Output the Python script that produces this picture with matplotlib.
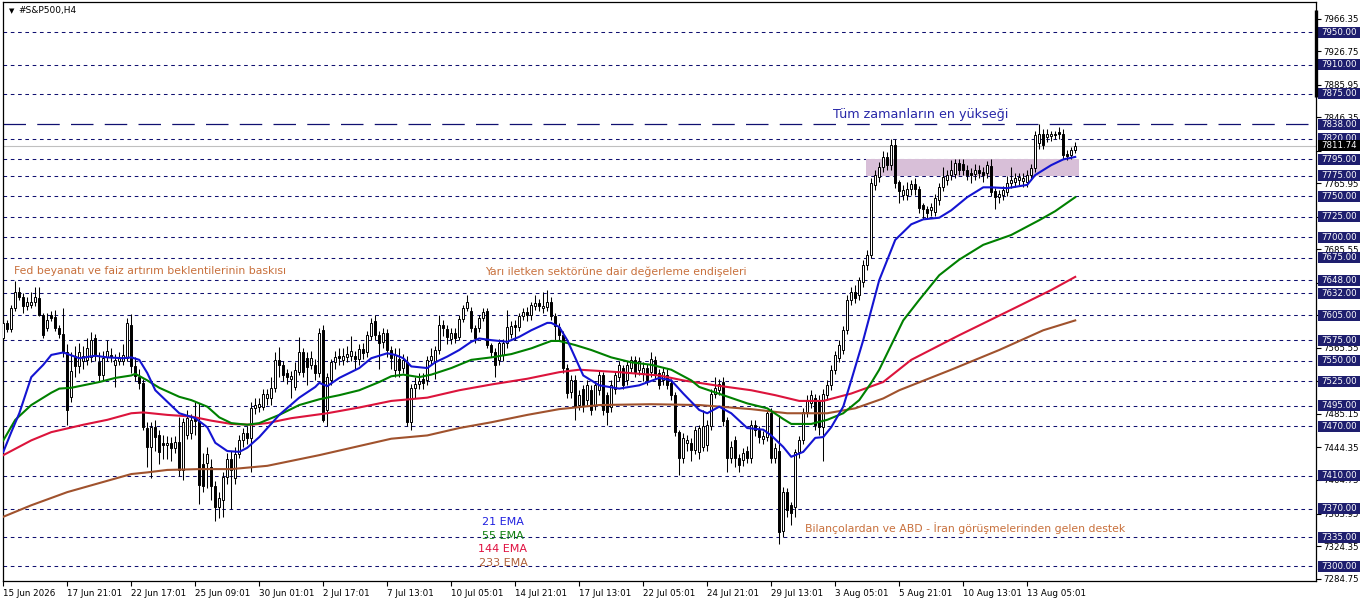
import matplotlib
matplotlib.use("Agg")
import matplotlib.pyplot as plt
import matplotlib.transforms as mtransforms
from matplotlib.patches import Rectangle
import numpy as np

# H4 candles
opens = [
    7578, 7596, 7588, 7614, 7633, 7628, 7617, 7618, 7621, 7626,
    7606, 7590, 7605, 7603, 7590, 7583, 7560, 7506, 7556, 7543,
    7550, 7551, 7554, 7578, 7548, 7533, 7555, 7557, 7545, 7550,
    7549, 7553, 7594, 7543, 7530, 7523, 7468, 7445, 7469, 7459,
    7450, 7447, 7450, 7444, 7451, 7417, 7460, 7462, 7480, 7476,
    7424, 7425, 7420, 7398, 7372, 7380, 7408, 7430, 7407, 7437,
    7453, 7462, 7456, 7492, 7494, 7494, 7504, 7505, 7517, 7551,
    7545, 7535, 7528, 7518, 7536, 7560, 7553, 7545, 7545, 7535,
    7587, 7490, 7526, 7548, 7556, 7551, 7554, 7556, 7556, 7552,
    7564, 7560, 7580, 7598, 7581, 7573, 7584, 7563, 7539, 7552,
    7541, 7548, 7475, 7517, 7521, 7528, 7526, 7551, 7550, 7563,
    7594, 7589, 7576, 7584, 7579, 7601, 7614, 7610, 7590, 7590,
    7602, 7610, 7569, 7561, 7551, 7557, 7571, 7582, 7593, 7591,
    7604, 7609, 7606, 7617, 7620, 7614, 7615, 7622, 7604, 7591,
    7581, 7541, 7512, 7526, 7496, 7515, 7502, 7514, 7496, 7514,
    7532, 7508, 7493, 7516, 7530, 7541, 7526, 7541, 7551, 7539,
    7535, 7541, 7536, 7551, 7535, 7526, 7532, 7523, 7508, 7463,
    7431, 7450, 7450, 7441, 7439, 7445, 7447, 7470, 7510, 7514,
    7524, 7478, 7432, 7453, 7431, 7429, 7440, 7431, 7472, 7466,
    7455, 7457, 7486, 7431, 7440, 7343, 7390, 7374, 7372, 7439,
    7453, 7487, 7498, 7504, 7502, 7469, 7508, 7520, 7539, 7553,
    7563, 7587, 7624, 7634, 7630, 7646, 7666, 7679, 7764, 7774,
    7786, 7798, 7788, 7812, 7767, 7752, 7752, 7759, 7765, 7759,
    7739, 7735, 7733, 7731, 7746, 7761, 7770, 7776, 7777, 7791,
    7790, 7782, 7778, 7777, 7782, 7780, 7779, 7787, 7757, 7749,
    7752, 7755, 7766, 7768, 7770, 7769, 7768, 7776, 7785, 7815,
    7826, 7822, 7824, 7826, 7828, 7826, 7802, 7800, 7806,
]
highs = [
    7600, 7600, 7618, 7647, 7640, 7632, 7628, 7634, 7640, 7640,
    7608, 7608, 7610, 7612, 7594, 7614, 7570, 7560, 7568, 7572,
    7568, 7578, 7585, 7582, 7560, 7562, 7575, 7566, 7558, 7560,
    7570, 7602, 7607, 7555, 7540, 7528, 7475, 7475, 7478, 7465,
    7460, 7458, 7457, 7458, 7482, 7480, 7490, 7485, 7500, 7498,
    7438, 7445, 7430, 7403, 7390, 7415, 7438, 7440, 7445, 7460,
    7468, 7470, 7500, 7505, 7505, 7515, 7515, 7530, 7560, 7567,
    7550, 7540, 7538, 7548, 7579, 7565, 7560, 7562, 7552, 7590,
    7593, 7535, 7552, 7562, 7565, 7565, 7568, 7580, 7562, 7570,
    7572, 7586, 7602, 7605, 7586, 7590, 7588, 7568, 7565, 7566,
    7558, 7556, 7522, 7530, 7535, 7535, 7556, 7565, 7568, 7605,
    7600, 7594, 7590, 7590, 7605, 7618, 7630, 7615, 7594, 7606,
    7614, 7614, 7572, 7565, 7576, 7576, 7612, 7598, 7600, 7608,
    7614, 7615, 7622, 7630, 7625, 7633, 7636, 7628, 7608, 7596,
    7586, 7546, 7532, 7532, 7514, 7520, 7526, 7520, 7525, 7538,
    7536, 7512, 7526, 7538, 7550, 7545, 7550, 7556, 7556, 7555,
    7548, 7546, 7560, 7556, 7540, 7542, 7540, 7528, 7512, 7466,
    7462, 7460, 7456, 7470, 7472, 7490, 7478, 7515, 7530, 7528,
    7530, 7482, 7452, 7458, 7436, 7444, 7446, 7478, 7478, 7470,
    7464, 7490, 7492, 7450, 7484, 7396, 7395, 7378, 7443, 7458,
    7492, 7508, 7514, 7510, 7508, 7516, 7526, 7545, 7562, 7575,
    7592, 7630, 7640, 7642, 7652, 7672, 7685, 7772, 7782, 7792,
    7805, 7804, 7820, 7820, 7770, 7764, 7768, 7770, 7772, 7763,
    7742, 7738, 7742, 7753, 7766, 7786, 7782, 7794, 7796, 7795,
    7796, 7788, 7784, 7790, 7788, 7786, 7793, 7795, 7760, 7758,
    7763, 7775, 7786, 7778, 7779, 7778, 7782, 7790, 7830, 7838,
    7832, 7832, 7830, 7830, 7834, 7832, 7806, 7810, 7816,
]
lows = [
    7572, 7585, 7585, 7610, 7624, 7608, 7612, 7614, 7617, 7604,
    7578, 7586, 7598, 7586, 7578, 7555, 7472, 7500, 7530, 7535,
    7540, 7545, 7548, 7550, 7525, 7526, 7550, 7548, 7518, 7545,
    7545, 7550, 7535, 7525, 7515, 7465, 7420, 7407, 7440, 7424,
    7430, 7430, 7428, 7438, 7410, 7405, 7455, 7455, 7460, 7375,
    7390, 7395, 7380, 7355, 7358, 7360, 7400, 7370, 7400, 7432,
    7445, 7448, 7415, 7485, 7488, 7490, 7496, 7496, 7512, 7530,
    7525, 7522, 7505, 7514, 7532, 7530, 7520, 7540, 7527, 7530,
    7475, 7470, 7520, 7540, 7545, 7545, 7548, 7550, 7540, 7545,
    7552, 7555, 7575, 7575, 7540, 7565, 7555, 7540, 7530, 7530,
    7535, 7470, 7466, 7505, 7515, 7515, 7520, 7545, 7528, 7558,
    7580, 7570, 7570, 7572, 7575, 7597, 7610, 7585, 7572, 7585,
    7598, 7565, 7555, 7530, 7545, 7550, 7566, 7578, 7575, 7586,
    7600, 7598, 7600, 7612, 7610, 7608, 7610, 7600, 7575, 7575,
    7535, 7505, 7505, 7478, 7490, 7488, 7496, 7484, 7490, 7508,
    7484, 7472, 7488, 7510, 7525, 7515, 7520, 7536, 7530, 7532,
    7525, 7520, 7530, 7528, 7515, 7520, 7515, 7502, 7458, 7411,
    7425, 7440, 7428, 7436, 7430, 7440, 7440, 7465, 7505, 7508,
    7470, 7415, 7425, 7420, 7415, 7422, 7425, 7425, 7458, 7450,
    7448, 7452, 7425, 7425, 7327, 7335, 7360, 7350, 7360, 7432,
    7448, 7482, 7492, 7466, 7460, 7428, 7502, 7514, 7534, 7548,
    7558, 7582, 7618, 7620, 7624, 7640, 7660, 7675, 7758, 7768,
    7780, 7782, 7782, 7760, 7742, 7746, 7746, 7752, 7752, 7730,
    7722, 7724, 7726, 7726, 7740, 7756, 7764, 7770, 7772, 7776,
    7776, 7770, 7766, 7770, 7772, 7768, 7772, 7750, 7735, 7742,
    7746, 7750, 7760, 7762, 7764, 7762, 7762, 7770, 7780, 7808,
    7808, 7816, 7818, 7820, 7820, 7796, 7794, 7796, 7803,
]
closes = [
    7596, 7589, 7614, 7634, 7628, 7616, 7621, 7622, 7627, 7606,
    7581, 7600, 7602, 7590, 7583, 7560, 7490, 7538, 7543, 7561,
    7556, 7566, 7575, 7557, 7533, 7553, 7562, 7555, 7551, 7553,
    7557, 7596, 7543, 7531, 7523, 7469, 7445, 7469, 7457, 7439,
    7447, 7450, 7444, 7451, 7417, 7475, 7480, 7478, 7476, 7399,
    7398, 7437, 7397, 7372, 7383, 7408, 7430, 7417, 7437, 7453,
    7462, 7456, 7492, 7496, 7497, 7509, 7510, 7517, 7551, 7545,
    7532, 7530, 7531, 7539, 7560, 7536, 7542, 7553, 7535, 7584,
    7478, 7530, 7548, 7555, 7553, 7556, 7558, 7562, 7552, 7564,
    7559, 7581, 7596, 7581, 7572, 7584, 7563, 7553, 7557, 7539,
    7551, 7475, 7517, 7522, 7525, 7523, 7551, 7556, 7563, 7594,
    7590, 7579, 7584, 7578, 7601, 7614, 7621, 7590, 7578, 7602,
    7609, 7569, 7560, 7545, 7572, 7572, 7591, 7592, 7591, 7604,
    7609, 7606, 7618, 7620, 7617, 7617, 7622, 7604, 7592, 7581,
    7541, 7511, 7526, 7493, 7508, 7496, 7520, 7490, 7520, 7532,
    7490, 7487, 7520, 7532, 7545, 7520, 7545, 7551, 7536, 7549,
    7541, 7526, 7552, 7532, 7520, 7536, 7520, 7508, 7463, 7431,
    7456, 7453, 7441, 7466, 7468, 7470, 7472, 7510, 7517, 7522,
    7476, 7432, 7445, 7431, 7423, 7438, 7431, 7472, 7466, 7457,
    7458, 7486, 7431, 7444, 7342, 7390, 7368, 7365, 7439, 7453,
    7487, 7502, 7508, 7472, 7469, 7510, 7520, 7539, 7557, 7569,
    7587, 7624, 7634, 7626, 7648, 7666, 7679, 7766, 7776, 7786,
    7798, 7788, 7812, 7766, 7757, 7758, 7759, 7765, 7759, 7736,
    7735, 7730, 7737, 7748, 7762, 7773, 7776, 7782, 7791, 7782,
    7782, 7776, 7776, 7782, 7779, 7776, 7788, 7755, 7749, 7753,
    7758, 7766, 7770, 7772, 7773, 7772, 7776, 7785, 7825, 7826,
    7812, 7826, 7826, 7825, 7826, 7800, 7799, 7806, 7811.74,
]

# EMA lines, read at points along each curve (bar index, price)
ema21_bars = [0, 2, 4, 7, 10, 12, 15, 19, 23, 26, 30, 32, 34, 36, 38, 41, 44, 48, 51, 53, 56,
              59, 61, 64, 69, 74, 78, 79, 81, 84, 89, 92, 96, 98, 100, 102, 106, 108, 111,
              114, 117, 119, 122, 126, 129, 132, 136, 137, 139, 141, 145, 149, 154, 159,
              164, 167, 170, 174, 176, 179, 182, 186, 190, 192, 195, 197, 200, 203, 205,
              207, 210, 212, 215, 219, 223, 227, 230, 234, 237, 241, 245, 247, 251, 256,
              258, 262, 265, 268]
ema21_vals = [7439, 7463, 7486, 7530, 7545, 7557, 7560, 7553, 7556, 7554, 7553, 7554, 7551,
              7535, 7514, 7500, 7486, 7480, 7469, 7450, 7440, 7439, 7444, 7457, 7484, 7505,
              7518, 7523, 7519, 7529, 7541, 7553, 7559, 7557, 7553, 7543, 7541, 7548, 7555,
              7563, 7573, 7577, 7575, 7573, 7579, 7587, 7596, 7596, 7591, 7575, 7532, 7520,
              7516, 7520, 7529, 7526, 7510, 7490, 7486, 7494, 7486, 7468, 7466, 7459, 7445,
              7433, 7439, 7456, 7457, 7469, 7494, 7526, 7575, 7648, 7697, 7716, 7722, 7724,
              7733, 7749, 7761, 7761, 7760, 7764, 7776, 7788, 7795, 7798]

ema55_bars = [0, 3, 7, 12, 14, 17, 20, 24, 28, 32, 33, 36, 39, 44, 47, 51, 54, 57, 61, 64,
              69, 74, 79, 84, 89, 94, 97, 100, 104, 107, 112, 117, 122, 127, 132, 137, 139,
              143, 147, 152, 157, 162, 167, 172, 174, 180, 186, 191, 195, 197, 202, 206,
              210, 214, 217, 219, 222, 225, 229, 234, 239, 245, 252, 259, 263, 268]
ema55_vals = [7453, 7478, 7496, 7511, 7516, 7517, 7520, 7524, 7529, 7532, 7534, 7526, 7517,
              7506, 7502, 7494, 7481, 7474, 7472, 7474, 7484, 7496, 7503, 7508, 7514, 7524,
              7531, 7533, 7530, 7533, 7541, 7551, 7554, 7558, 7565, 7574, 7574, 7569, 7563,
              7554, 7548, 7545, 7539, 7526, 7518, 7508, 7498, 7492, 7479, 7473, 7473, 7478,
              7486, 7502, 7523, 7539, 7569, 7599, 7624, 7654, 7673, 7691, 7703, 7721, 7732,
              7749]

ema144_bars = [0, 7, 12, 20, 26, 32, 35, 41, 47, 52, 57, 62, 66, 72, 81, 89, 97, 106, 114,
               122, 131, 139, 144, 154, 164, 170, 178, 187, 193, 199, 205, 212, 220, 227,
               239, 252, 262, 268]
ema144_vals = [7435, 7453, 7463, 7472, 7478, 7486, 7487, 7484, 7482, 7477, 7473, 7472, 7474,
               7480, 7486, 7493, 7501, 7505, 7514, 7521, 7528, 7536, 7539, 7536, 7532, 7526,
               7520, 7514, 7508, 7501, 7501, 7510, 7524, 7551, 7581, 7612, 7636, 7652]

ema233_bars = [0, 7, 16, 24, 32, 36, 41, 49, 57, 66, 79, 97, 106, 114, 122, 131, 139, 149,
               162, 174, 187, 196, 206, 213, 220, 224, 237, 249, 260, 268]
ema233_vals = [7360, 7374, 7390, 7401, 7412, 7414, 7417, 7418, 7418, 7422, 7435, 7455, 7459,
               7468, 7475, 7484, 7491, 7496, 7497, 7496, 7491, 7486, 7486, 7492, 7504, 7514,
               7539, 7563, 7587, 7599]

# horizontal levels drawn on the chart
levels = [7950, 7910, 7875, 7820, 7795, 7775, 7750, 7725, 7700, 7675, 7648, 7632, 7605,
          7575, 7550, 7525, 7495, 7470, 7410, 7370, 7335, 7300]
ath_level = 7838
last_price = 7811.74
zone_low, zone_high = 7775, 7795

price_ticks = [7966.35, 7926.75, 7885.95, 7846.35, 7805.55, 7765.95, 7725.15, 7685.55,
               7644.75, 7605.15, 7565.55, 7524.75, 7485.15, 7444.35, 7404.75, 7363.95,
               7324.35, 7284.75]
# these scale labels sit completely under a level label in the reference
hidden_ticks = [7805.55, 7725.15, 7605.15, 7524.75]
time_labels = ["15 Jun 2026", "17 Jun 21:01", "22 Jun 17:01", "25 Jun 09:01", "30 Jun 01:01",
               "2 Jul 17:01", "7 Jul 13:01", "10 Jul 05:01", "14 Jul 21:01", "17 Jul 13:01",
               "22 Jul 05:01", "24 Jul 21:01", "29 Jul 13:01", "3 Aug 05:01", "5 Aug 21:01",
               "10 Aug 13:01", "13 Aug 05:01"]
label_every = 16

plt.rcParams['font.family'] = ['DejaVu Sans']

opens = np.array(opens, dtype=float)
highs = np.array(highs, dtype=float)
lows = np.array(lows, dtype=float)
closes = np.array(closes, dtype=float)
n = len(closes)
x = np.arange(n)

fig = plt.figure(figsize=(13.62, 6.03), dpi=100)
ax = fig.add_axes([3 / 1362, 22 / 603, 1313 / 1362, 579 / 603])
ax.set_xlim(-0.075, 328.2)
ax.set_ylim(7281.8, 7986.6)

for lv in levels:
    ax.axhline(lv, color='#101070', lw=0.75, ls=(0, (3.5, 3.5)), zorder=1)
ax.axhline(ath_level, color='#101070', lw=0.9, ls=(0, (18, 9)), zorder=1)
ax.axhline(last_price, color='#c0c0c0', lw=0.8, zorder=1)

ax.fill_between([215.8, 269.0], zone_low, zone_high, color='#d8bfd8', lw=0, zorder=1.5)

# candles
up = closes >= opens
ax.vlines(x, lows, highs, color='black', lw=0.75, zorder=2)
ax.bar(x, np.abs(closes - opens), bottom=np.minimum(opens, closes), width=0.6,
       color=np.where(up, 'white', 'black'), edgecolor='black', linewidth=0.7, zorder=3)

ax.plot(ema233_bars, ema233_vals, color='#a0522d', lw=1.5, zorder=4)
ax.plot(ema144_bars, ema144_vals, color='#dc143c', lw=1.5, zorder=4)
ax.plot(ema55_bars, ema55_vals, color='#008000', lw=1.5, zorder=4)
ax.plot(ema21_bars, ema21_vals, color='#1414d2', lw=1.5, zorder=4)

# axes look
for s in ax.spines.values():
    s.set_color('black')
    s.set_linewidth(0.9)
ax.yaxis.tick_right()
ax.set_yticks(price_ticks)
ax.set_yticklabels(["" if t in hidden_ticks else f"{t:.2f}" for t in price_ticks])
ax.tick_params(axis='y', direction='out', length=3.5, width=0.8, pad=1.5, labelsize=6.2,
               colors='black')
tick_pos = list(range(0, label_every * len(time_labels), label_every))
ax.set_xticks(tick_pos)
ax.set_xticklabels(time_labels)
ax.tick_params(axis='x', direction='out', length=3.5, width=0.8, pad=2, labelsize=6.3,
               colors='black')
for lbl in ax.get_xticklabels():
    lbl.set_horizontalalignment('left')

# price labels for the drawn levels
tr = mtransforms.blended_transform_factory(ax.transAxes, ax.transData)
box_x0, box_w, box_h = 1.0015, 0.032, 13.4


def price_box(value, face, z):
    ax.add_patch(Rectangle((box_x0, value - box_h / 2), box_w, box_h, transform=tr,
                           facecolor=face, edgecolor='none', clip_on=False, zorder=z))
    ax.text(box_x0 + box_w / 2, value, f"{value:.2f}", transform=tr, ha='center',
            va='center', fontsize=6.2, color='white', clip_on=False, zorder=z + 0.1)


for lv in levels + [ath_level]:
    price_box(lv, '#1e1e6e', 6)
price_box(last_price, 'black', 7)
ax.plot([1.0, 1.0], [7870.9, 7976.8], transform=tr, color='black', lw=2.4,
        clip_on=False, zorder=6, solid_capstyle='butt')

# texts
ax.text(0.0045, 0.985, "\u25bc", transform=ax.transAxes, fontsize=5, va='center',
        ha='left', color='black')
ax.text(0.0115, 0.985, "#S&P500,H4", transform=ax.transAxes, fontsize=6.5, va='center',
        ha='left', color='black')

note_color = '#c8703c'
ax.text(0.632, 0.805, "Tüm zamanların en yükseği", transform=ax.transAxes, fontsize=9.2,
        va='center', ha='left', color='#2828a8', zorder=5)
ax.text(0.0084, 0.5354, "Fed beyanatı ve faiz artırım beklentilerinin baskısı",
        transform=ax.transAxes, fontsize=7.8, va='center', ha='left', color=note_color, zorder=5)
ax.text(0.367, 0.5337, "Yarı iletken sektörüne dair değerleme endişeleri",
        transform=ax.transAxes, fontsize=7.8, va='center', ha='left', color=note_color, zorder=5)
ax.text(0.6108, 0.0915, "Bilançolardan ve ABD - İran görüşmelerinden gelen destek",
        transform=ax.transAxes, fontsize=7.8, va='center', ha='left', color=note_color, zorder=5)

ax.text(0.3808, 0.1019, "21 EMA", transform=ax.transAxes, fontsize=8, va='center',
        ha='center', color='#2020e0', zorder=5)
ax.text(0.3808, 0.0777, "55 EMA", transform=ax.transAxes, fontsize=8, va='center',
        ha='center', color='#108010', zorder=5)
ax.text(0.3808, 0.0553, "144 EMA", transform=ax.transAxes, fontsize=8, va='center',
        ha='center', color='#e01040', zorder=5)
ax.text(0.3808, 0.0311, "233 EMA", transform=ax.transAxes, fontsize=8, va='center',
        ha='center', color='#b0603a', zorder=5)

fig.savefig("out.png", dpi=100)
